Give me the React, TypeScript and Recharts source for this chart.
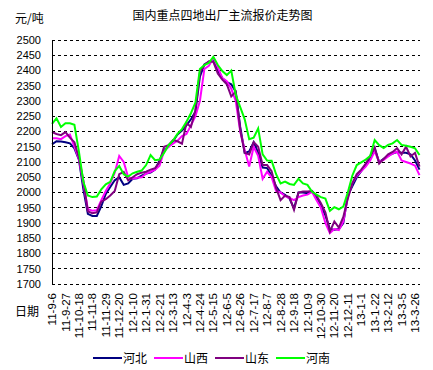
import React from "react";
import { Line, LineChart, ReferenceLine, XAxis, YAxis } from "recharts";

// weekly quotes, 2011-09-06 .. 2013-04-02
const dates: string[] = [
  "11-9-6", "11-9-13", "11-9-20", "11-9-27", "11-10-4", "11-10-11", "11-10-18", "11-10-25",
  "11-11-1", "11-11-8", "11-11-15", "11-11-22", "11-11-29", "11-12-6", "11-12-13", "11-12-20",
  "11-12-27", "12-1-3", "12-1-10", "12-1-17", "12-1-24", "12-1-31", "12-2-7", "12-2-14",
  "12-2-21", "12-2-28", "12-3-6", "12-3-13", "12-3-20", "12-3-27", "12-4-3", "12-4-10",
  "12-4-17", "12-4-24", "12-5-1", "12-5-8", "12-5-15", "12-5-22", "12-5-29", "12-6-5",
  "12-6-12", "12-6-19", "12-6-26", "12-7-3", "12-7-10", "12-7-17", "12-7-24", "12-7-31",
  "12-8-7", "12-8-14", "12-8-21", "12-8-28", "12-9-4", "12-9-11", "12-9-18", "12-9-25",
  "12-10-2", "12-10-9", "12-10-16", "12-10-23", "12-10-30", "12-11-6", "12-11-13", "12-11-20",
  "12-11-27", "12-12-4", "12-12-11", "12-12-18", "12-12-25", "13-1-1", "13-1-8", "13-1-15",
  "13-1-22", "13-1-29", "13-2-5", "13-2-12", "13-2-19", "13-2-26", "13-3-5", "13-3-12",
  "13-3-19", "13-3-26", "13-4-2",
];

const hebei: number[] = [
  2158, 2168, 2167, 2165, 2161, 2145, 2108, 2010, 1930, 1923, 1923, 1955, 1995, 2018, 2040, 2050,
  2025, 2030, 2045, 2047, 2055, 2062, 2065, 2075, 2105, 2140, 2150, 2168, 2190, 2203, 2220, 2240,
  2265, 2380, 2420, 2428, 2435, 2400, 2375, 2362, 2355, 2330, 2215, 2130, 2135, 2165, 2130, 2082,
  2080, 2055, 2020, 2000, 1992, 1980, 1948, 2000, 2000, 1998, 2005, 1987, 1955, 1925, 1880, 1878,
  1880, 1900, 1990, 2020, 2050, 2070, 2090, 2110, 2145, 2100, 2110, 2120, 2128, 2133, 2130, 2130,
  2125, 2105, 2075,
];

const shanxi: number[] = [
  2178, 2178, 2175, 2185, 2190, 2150, 2110, 2030, 1945, 1940, 1942, 1975, 2005, 2030, 2065, 2120,
  2100, 2050, 2045, 2048, 2050, 2062, 2068, 2075, 2088, 2135, 2150, 2160, 2170, 2185, 2192, 2220,
  2250, 2300, 2405, 2415, 2442, 2410, 2375, 2365, 2340, 2300, 2200, 2139, 2085, 2150, 2120, 2045,
  2068, 2050, 2005, 2000, 1988, 1982, 1975, 1985, 1990, 1993, 2002, 1975, 1950, 1900, 1867, 1880,
  1877, 1905, 1985, 2030, 2055, 2070, 2085, 2105, 2135, 2100, 2107, 2118, 2128, 2134, 2105, 2100,
  2095, 2088, 2057,
];

const shandong: number[] = [
  2198, 2192, 2188, 2198, 2180, 2165, 2115, 2040, 1938, 1932, 1935, 1970, 1978, 1990, 2005, 2060,
  2068, 2040, 2050, 2060, 2065, 2068, 2075, 2080, 2100, 2150, 2155, 2172, 2168, 2160, 2228, 2215,
  2270, 2395, 2418, 2430, 2428, 2390, 2370, 2355, 2315, 2330, 2205, 2130, 2125, 2165, 2150, 2090,
  2090, 2070, 2015, 1975, 1990, 1985, 1943, 2000, 2003, 2003, 2005, 1990, 1965, 1935, 1872, 1905,
  1885, 1920, 1980, 2030, 2060, 2075, 2095, 2120, 2148, 2095, 2110, 2125, 2133, 2145, 2125, 2150,
  2118, 2130, 2085,
];

const henan: number[] = [
  2225, 2243, 2215, 2227, 2227, 2222, 2135, 2035, 1990, 1985, 1987, 2010, 2027, 2035, 2070, 2087,
  2060, 2052, 2063, 2068, 2072, 2090, 2123, 2106, 2108, 2130, 2155, 2170, 2192, 2208, 2232, 2260,
  2295, 2405, 2418, 2425, 2445, 2418, 2398, 2385, 2400, 2320, 2280, 2240, 2175, 2180, 2210, 2125,
  2105, 2104, 2060, 2030, 2036, 2028, 2025, 2045, 2030, 2025, 2003, 1993, 1985, 1980, 1940, 1952,
  1945, 1954, 2000, 2055, 2090, 2099, 2108, 2120, 2172, 2155, 2146, 2156, 2161, 2172, 2156, 2153,
  2150, 2145, 2123,
];

const yTicks: number[] = [
  1700, 1750, 1800, 1850, 1900, 1950, 2000, 2050, 2100, 2150, 2200, 2250, 2300, 2350, 2400, 2450, 2500,
];

const series = [
  { key: "hebei", name: "河北", color: "#000080" },
  { key: "shanxi", name: "山西", color: "#FF00FF" },
  { key: "shandong", name: "山东", color: "#800080" },
  { key: "henan", name: "河南", color: "#00FF00" },
];

const data = dates.map((date, i) => ({
  date,
  hebei: hebei[i],
  shanxi: shanxi[i],
  shandong: shandong[i],
  henan: henan[i],
}));

const FONT = '"Liberation Sans", Arial, sans-serif';
const CJK = '"Noto Sans CJK SC", sans-serif';

const DateTick = (props: any) => {
  const { x, y, payload } = props;
  return (
    <text
      transform={`translate(${x},${y}) rotate(-90)`}
      textAnchor="end"
      dy="0.36em"
      fontSize={11.5}
      fontFamily={FONT}
      fill="#000"
    >
      {payload.value}
    </text>
  );
};

export default function App() {
  return (
    <div
      style={{
        position: "absolute",
        left: 0,
        top: 0,
        width: 433,
        height: 370,
        background: "#fff",
      }}
    >
      <LineChart
        width={433}
        height={370}
        data={data}
        margin={{ top: 40, right: 13.5, left: 0, bottom: 26 }}
      >
        <XAxis
          dataKey="date"
          interval={2}
          height={60}
          axisLine={false}
          tickLine={false}
          tickSize={0}
          tickMargin={9}
          tick={<DateTick />}
        />
        <YAxis
          domain={[1700, 2500]}
          ticks={yTicks}
          width={52}
          axisLine={{ stroke: "#000", shapeRendering: "crispEdges" }}
          tickLine={false}
          tickSize={0}
          tickMargin={11}
          tick={{ fontSize: 11, fill: "#000", fontFamily: FONT }}
          interval={0}
        />
        {/* dashed rows at every y tick */}
        {yTicks.map((t) => (
          <ReferenceLine
            key={t}
            y={t}
            stroke="#000000"
            strokeOpacity={1}
            strokeWidth={1}
            strokeDasharray="3 3"
            shapeRendering="crispEdges"
          />
        ))}
        {series.map((s) => (
          <Line
            key={s.key}
            type="linear"
            dataKey={s.key}
            name={s.name}
            stroke={s.color}
            strokeWidth={2}
            dot={false}
            isAnimationActive={false}
          />
        ))}
      </LineChart>

      <div
        style={{
          position: "absolute",
          left: 0,
          width: 445,
          top: 7,
          textAlign: "center",
          fontFamily: CJK,
          fontSize: 12,
          lineHeight: "16px",
        }}
      >
        国内重点四地出厂主流报价走势图
      </div>
      <div
        style={{
          position: "absolute",
          left: 15,
          top: 10,
          fontFamily: CJK,
          fontSize: 12,
          lineHeight: "16px",
        }}
      >
        元/吨
      </div>
      <div
        style={{
          position: "absolute",
          left: 15,
          top: 303,
          fontFamily: CJK,
          fontSize: 12,
          lineHeight: "16px",
        }}
      >
        日期
      </div>

      <div
        style={{
          position: "absolute",
          left: 93,
          top: 350,
          display: "flex",
          fontFamily: CJK,
          fontSize: 12,
          lineHeight: "16px",
        }}
      >
        {series.map((s) => (
          <div
            key={s.key}
            style={{ width: 61, display: "flex", alignItems: "center" }}
          >
            <span
              style={{
                display: "inline-block",
                width: 29,
                height: 2,
                background: s.color,
                marginRight: 1,
              }}
            />
            <span>{s.name}</span>
          </div>
        ))}
      </div>
    </div>
  );
}
